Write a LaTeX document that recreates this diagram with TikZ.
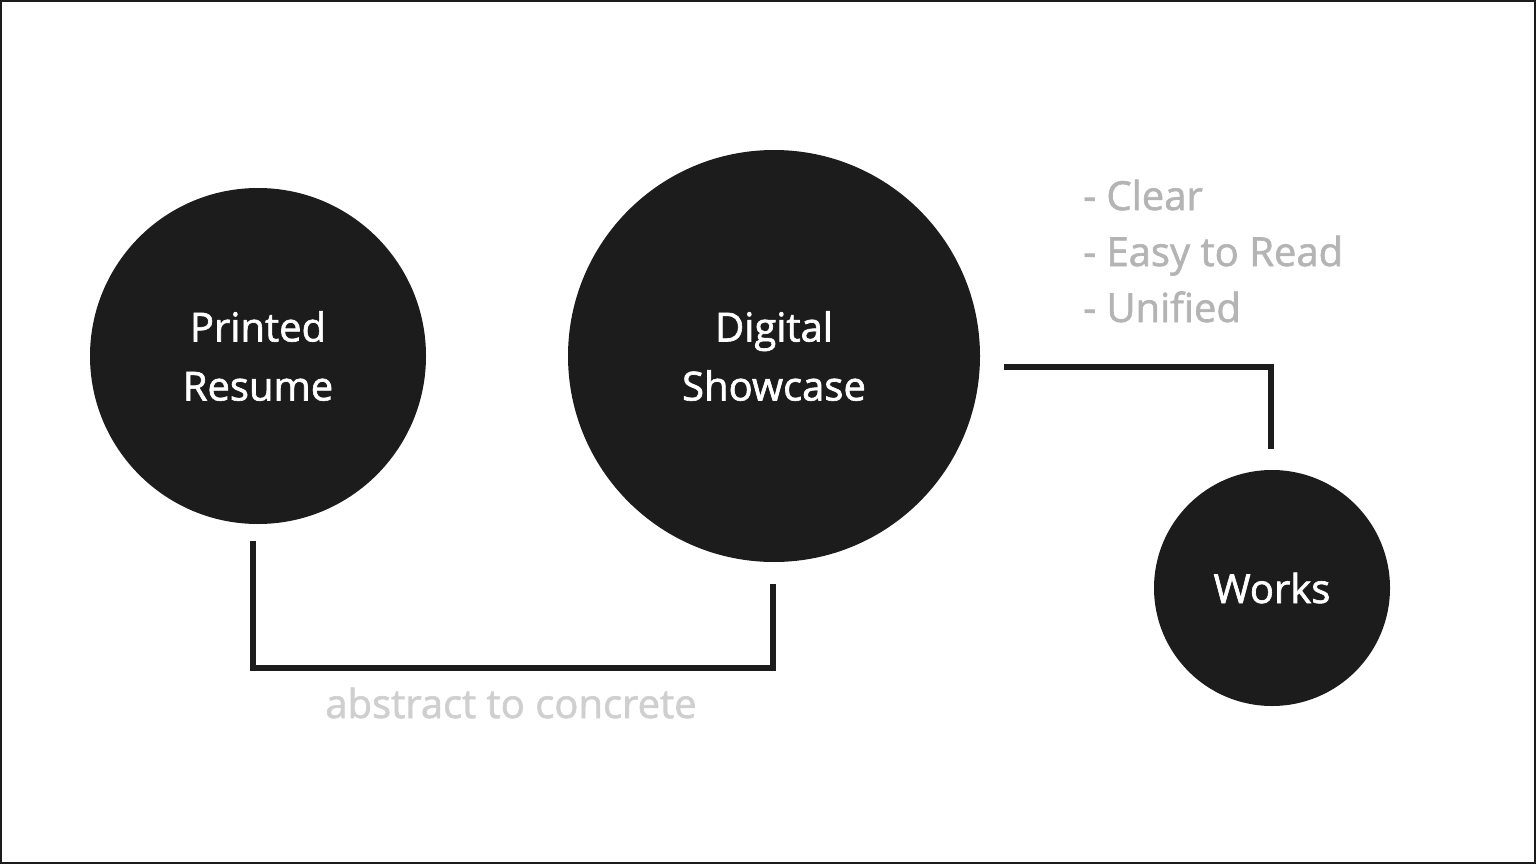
\documentclass[tikz,border=0pt]{standalone}
\usepackage{fontspec}
\setmainfont{Open Sans}
\newfontfamily\medfont{Open Sans}[FakeBold=1.6]
\definecolor{ink}{HTML}{1C1C1C}
\definecolor{listgray}{HTML}{B4B4B4}
\definecolor{notegray}{HTML}{CFCFCF}
\tikzset{
  blob/.style={circle, fill=ink, draw=none, text=white, align=center, inner sep=0pt,
    font=\medfont\fontsize{40}{59}\selectfont},
  wire/.style={draw=ink, line width=6pt, line cap=butt, line join=miter},
  listtext/.style={text=listgray, anchor=base west, inner sep=0pt, font=\medfont\fontsize{40}{45}\selectfont},
  notetext/.style={text=notegray, anchor=base, inner sep=0pt, font=\medfont\fontsize{40}{45}\selectfont}
}
\begin{document}
\begin{tikzpicture}[x=1pt,y=-1pt]
\useasboundingbox (0,0) rectangle (1536,864);
\draw[ink, line width=2pt] (1,1) rectangle (1535,863);

\node[blob, minimum size=336pt] (pr) at (258,356) {Printed\\Resume};
\node[blob, minimum size=412pt] (ds) at (774,356) {Digital\\Showcase};
\node[blob, minimum size=236pt] (wk) at (1272,588) {Works};

\coordinate (a1) at (253,541);
\coordinate (a2) at (773,584);
\draw[wire] (a1) -- (253,668) -- (773,668) -- (a2);

\coordinate (b1) at (1004,367);
\coordinate (b2) at (1271,449);
\draw[wire] (b1) -| (b2);

\node[notetext] (note) at (511,718) {abstract to concrete};

\node[listtext] (l1) at (1083,210) {- Clear};
\node[listtext] (l2) at (1083,266) {- Easy to Read};
\node[listtext] (l3) at (1083,322) {- Unified};
\end{tikzpicture}
\end{document}
